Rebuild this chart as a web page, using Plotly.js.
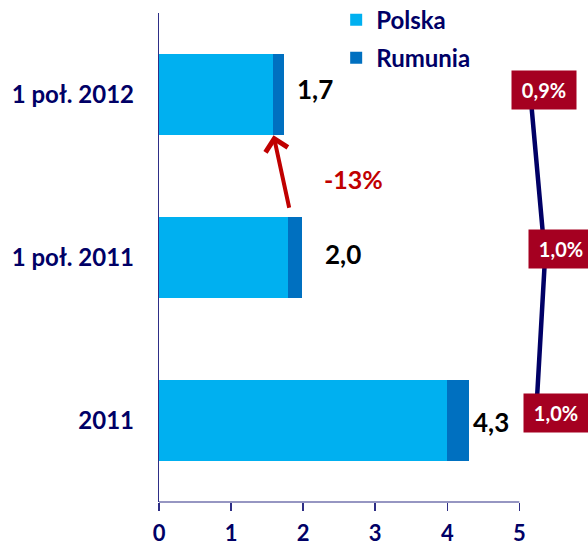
<!DOCTYPE html>
<html><head><meta charset="utf-8">
<script src="https://cdn.plot.ly/plotly-3.0.1.min.js"></script>
<style>html,body{margin:0;padding:0;background:#fff}#chart{width:588px;height:546px}</style>
</head><body><div id="chart"></div>
<script>
// ---- data ----
const categories = ['2011', '1 poł. 2011', '1 poł. 2012'];
const polska = [4.0, 1.795, 1.58];
const rumunia = [0.30, 0.185, 0.15];
const udzial = [0.97, 1.04, 0.93];            // line series (%)
const udzialLabels = ['1,0%', '1,0%', '0,9%'];
const zmianaLabel = '-13%';
const seriesNames = ['Polska', 'Rumunia'];
const xTicks = [0, 1, 2, 3, 4, 5];

// ---- styling ----
const NAVY = '#000066';
const AXIS = '#2E2E86';
const RED = '#C00000';
const BOX = '#A50021';
const FONT = 'Lato, "Open Sans", sans-serif';
const valShiftX = [2, 21, 11];
const valShiftY = [-1, 4, 6];
const boxShiftX = [20, 15.5, 13.6];
const boxShiftY = [8, 8.5, 4.5];

const totals = polska.map((v, i) => v + rumunia[i]);
const fmt = v => v.toFixed(1).replace('.', ',');
const idx = categories.map((c, i) => i);

const traces = [
  {type: 'bar', orientation: 'h', name: seriesNames[0], x: polska, y: categories,
   marker: {color: '#00B0F0'}, legendgroup: 'a', hoverinfo: 'skip'},
  {type: 'bar', orientation: 'h', name: seriesNames[1], x: rumunia, y: categories,
   marker: {color: '#0070C0'}, legendgroup: 'b', hoverinfo: 'skip'},
  {type: 'scatter', mode: 'lines', x: udzial, y: categories, xaxis: 'x2', yaxis: 'y',
   line: {color: NAVY, width: 4.5}, showlegend: false, hoverinfo: 'skip'}
];

const annotations = [];
idx.forEach(i => {
  annotations.push({x: totals[i], y: i, xref: 'x', yref: 'y', text: fmt(totals[i]),
    showarrow: false, xanchor: 'left', yanchor: 'middle', xshift: valShiftX[i], yshift: valShiftY[i],
    font: {family: FONT, size: 26, color: '#000000', weight: 'bold'}});
  annotations.push({x: udzial[i], y: i, xref: 'x2', yref: 'y', text: udzialLabels[i],
    showarrow: false, xanchor: 'center', yanchor: 'middle', xshift: boxShiftX[i], yshift: boxShiftY[i],
    bgcolor: BOX, width: 60, height: 34, borderpad: 2,
    font: {family: FONT, size: 20, color: '#FFFFFF', weight: 'bold'}});
});
// change arrow between 1 poł. 2011 and 1 poł. 2012
annotations.push({x: 1.589, y: 1.75, xref: 'x', yref: 'y', ax: 1.811, ay: 1.296, axref: 'x', ayref: 'y',
  text: '', showarrow: true, arrowhead: 4, arrowsize: 1.1, arrowwidth: 4, arrowcolor: RED});
annotations.push({x: 2.694, y: 1.48, xref: 'x', yref: 'y', text: zmianaLabel, showarrow: false,
  font: {family: FONT, size: 25, color: RED, weight: 'bold'}});

const layout = {
  width: 588, height: 546,
  margin: {l: 158.7, r: 0, t: 12.5, b: 44, autoexpand: false},
  paper_bgcolor: '#fff', plot_bgcolor: '#fff',
  barmode: 'stack', bargap: 0.5,
  showlegend: true,
  legend: {x: 0.413, xanchor: 'left', y: 1.0316, yanchor: 'top',
    traceorder: 'grouped', tracegroupgap: 4, bgcolor: 'rgba(0,0,0,0)',
    font: {family: FONT, size: 24, color: NAVY, weight: 'bold'}},
  xaxis: {range: [0, 5.953], tickvals: xTicks, ticktext: xTicks.map(String),
    ticks: 'outside', ticklen: 8, tickwidth: 1.5, tickcolor: AXIS,
    showline: false, showgrid: false, zeroline: false, ticklabelstandoff: 4,
    tickfont: {family: FONT, size: 22, color: NAVY, weight: 'bold'}},
  xaxis2: {overlaying: 'x', range: [-1.871, 1.364], visible: false},
  yaxis: {type: 'category', categoryarray: categories, range: [-0.5, 2.5],
    showline: true, linecolor: AXIS, linewidth: 1.2, ticks: '', showgrid: false, zeroline: false,
    ticklabelstandoff: 19,
    tickfont: {family: FONT, size: 24, color: NAVY, weight: 'bold'}},
  shapes: [{type: 'line', xref: 'x', yref: 'paper', x0: 0, x1: 5, y0: 0, y1: 0,
    line: {color: AXIS, width: 1.2}}],
  annotations: annotations
};

Plotly.newPlot('chart', traces, layout, {staticPlot: true, displayModeBar: false});
</script>
</body></html>
